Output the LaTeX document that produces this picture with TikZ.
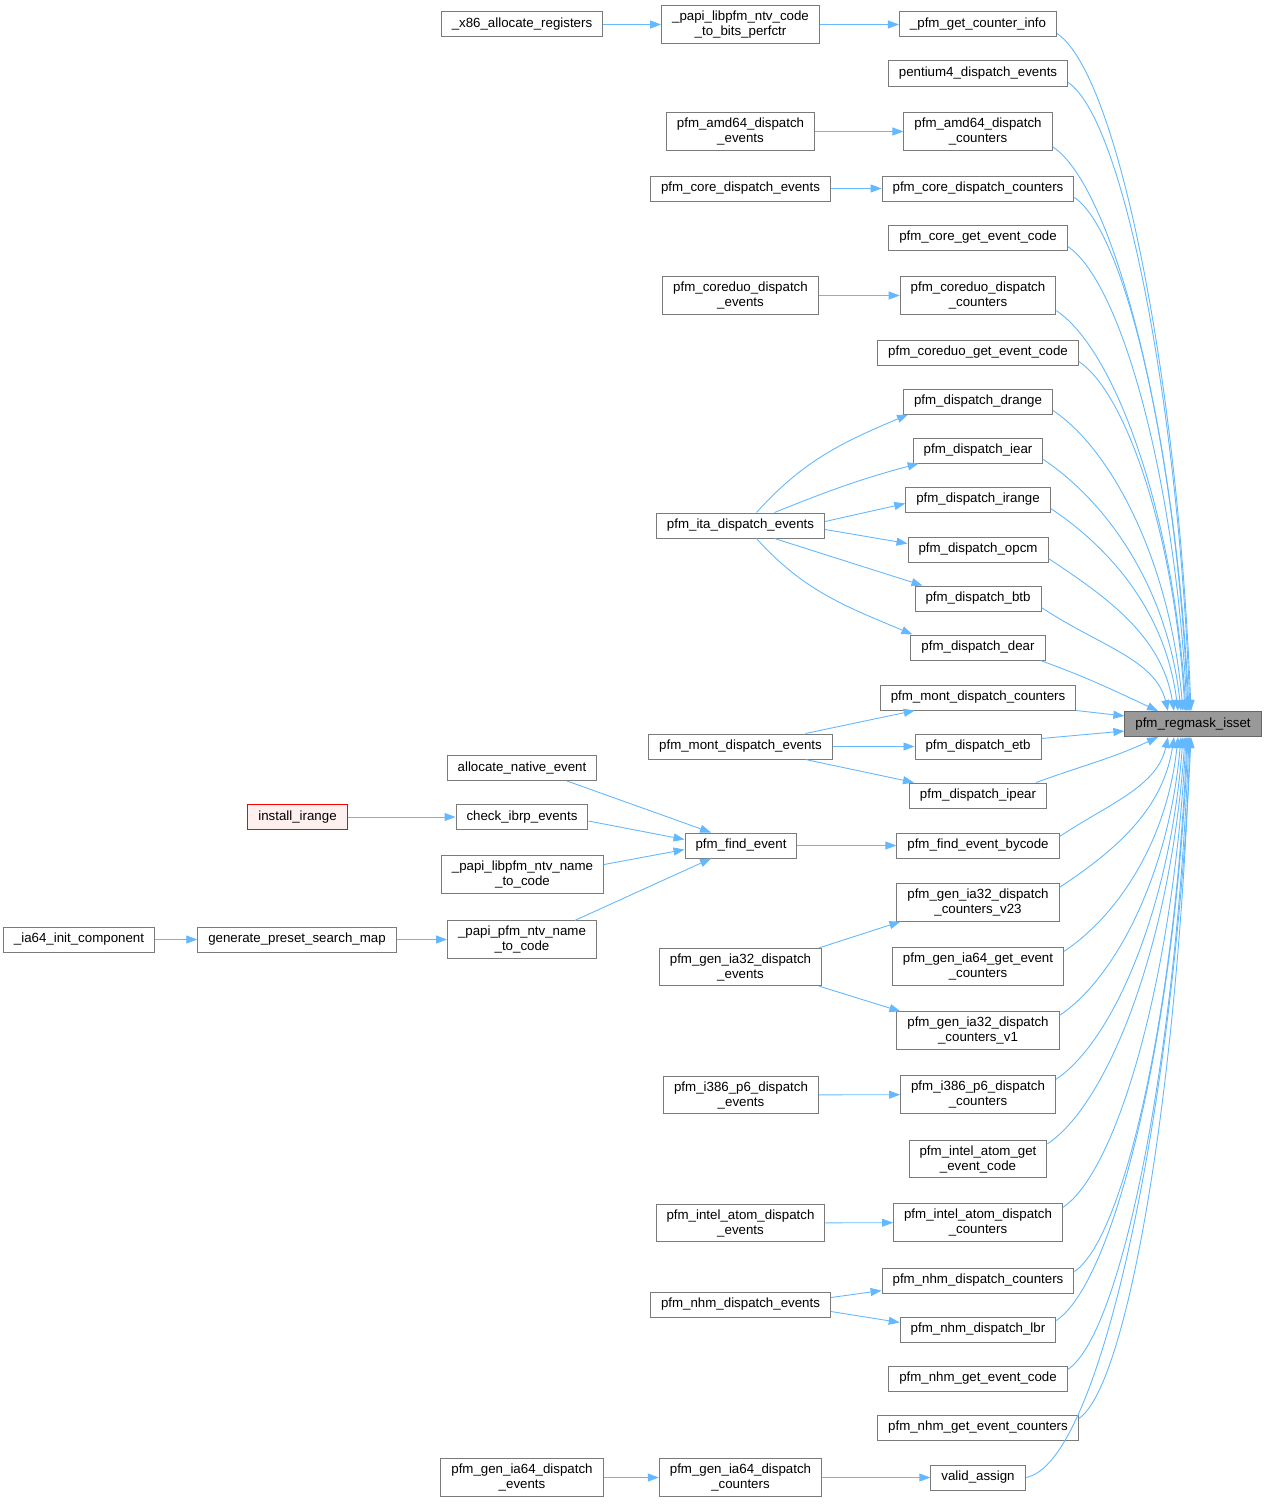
\documentclass[tikz,border=0pt]{standalone}
\usepackage{fontspec}
\setmainfont{Liberation Sans}
\usepackage{tikz}
\usetikzlibrary{%
  arrows.meta,%
  positioning,%
  calc%
}
\definecolor{edgeblue}{HTML}{63B8FF}
\definecolor{boxline}{HTML}{7A7A7A}
\definecolor{hitfill}{HTML}{999999}
\definecolor{hitline}{HTML}{666666}
\definecolor{rootfill}{HTML}{FFF0F0}

\begin{document}
\begin{tikzpicture}[
  x=1pt,y=1pt,
  font=\fontsize{13.3}{15}\selectfont,
  >={Triangle[length=11pt,width=8pt]},
  fnode/.style={draw=boxline,fill=white,line width=1pt,align=center,
    inner xsep=10.5pt,inner ysep=5pt,minimum height=25pt},
  fhit/.style={fnode,draw=hitline,fill=hitfill},
  froot/.style={fnode,draw=red,fill=rootfill},
  callarrow/.style={->,draw=edgeblue,line width=0.9pt},
]
\useasboundingbox (0,0) rectangle (1267,-1504);

% callers, far left
\node[fnode] (ia64init) at (79,-939.5) {\_ia64\_init\_component};
\node[fnode] (genmap) at (297,-939.5) {generate\_preset\_search\_map};
\node[froot] (instir) at (297.5,-817) {install\_irange};

% second column
\node[fnode] (x86reg) at (522,-24.5) {\_x86\_allocate\_registers};
\node[fnode] (allocev) at (522,-768) {allocate\_native\_event};
\node[fnode] (ibrpev) at (522,-817) {check\_ibrp\_events};
\node[fnode] (libname) at (522.5,-874.5) {\_papi\_libpfm\_ntv\_name\\\_to\_code};
\node[fnode] (pfmname) at (522,-939.5) {\_papi\_pfm\_ntv\_name\\\_to\_code};
\node[fnode] (ia64ev) at (522,-1477.5) {pfm\_gen\_ia64\_dispatch\\\_events};

% third column
\node[fnode] (codebits) at (740.5,-24.5) {\_papi\_libpfm\_ntv\_code\\\_to\_bits\_perfctr};
\node[fnode] (amdev) at (740.5,-131.5) {pfm\_amd64\_dispatch\\\_events};
\node[fnode] (coreev) at (740.5,-188.5) {pfm\_core\_dispatch\_events};
\node[fnode] (duoev) at (740.5,-295.5) {pfm\_coreduo\_dispatch\\\_events};
\node[fnode] (itaev) at (740.5,-525.5) {pfm\_ita\_dispatch\_events};
\node[fnode] (montev) at (740.5,-746.5) {pfm\_mont\_dispatch\_events};
\node[fnode] (findev) at (741,-845.5) {pfm\_find\_event};
\node[fnode] (ia32ev) at (740.5,-967) {pfm\_gen\_ia32\_dispatch\\\_events};
\node[fnode] (p6ev) at (741,-1095) {pfm\_i386\_p6\_dispatch\\\_events};
\node[fnode] (atomev) at (740.5,-1223) {pfm\_intel\_atom\_dispatch\\\_events};
\node[fnode] (nhmev) at (740.5,-1304.5) {pfm\_nhm\_dispatch\_events};
\node[fnode] (ia64cnt) at (740.5,-1477.5) {pfm\_gen\_ia64\_dispatch\\\_counters};

% direct callers of pfm_regmask_isset
\node[fnode] (cinfo) at (978,-24.5) {\_pfm\_get\_counter\_info};
\node[fnode] (ptfour) at (978,-73.5) {pentium4\_dispatch\_events};
\node[fnode] (amdcnt) at (978,-131.5) {pfm\_amd64\_dispatch\\\_counters};
\node[fnode] (corecnt) at (978,-188.5) {pfm\_core\_dispatch\_counters};
\node[fnode] (coreget) at (978,-237.5) {pfm\_core\_get\_event\_code};
\node[fnode] (duocnt) at (978,-295.5) {pfm\_coreduo\_dispatch\\\_counters};
\node[fnode] (duoget) at (978,-352.5) {pfm\_coreduo\_get\_event\_code};
\node[fnode] (drange) at (978,-401.5) {pfm\_dispatch\_drange};
\node[fnode] (iear) at (978,-450.5) {pfm\_dispatch\_iear};
\node[fnode] (irange) at (978,-499.5) {pfm\_dispatch\_irange};
\node[fnode] (opcm) at (978,-549.5) {pfm\_dispatch\_opcm};
\node[fnode] (btb) at (978,-598.5) {pfm\_dispatch\_btb};
\node[fnode] (dear) at (978,-647.5) {pfm\_dispatch\_dear};
\node[fnode] (montcnt) at (978,-697.5) {pfm\_mont\_dispatch\_counters};
\node[fnode] (etb) at (978,-746.5) {pfm\_dispatch\_etb};
\node[fnode] (ipear) at (978,-795.5) {pfm\_dispatch\_ipear};
\node[fnode] (bycode) at (978,-845.5) {pfm\_find\_event\_bycode};
\node[fnode] (vtt) at (978,-902.5) {pfm\_gen\_ia32\_dispatch\\\_counters\_v23};
\node[fnode] (iagetcnt) at (978,-966.5) {pfm\_gen\_ia64\_get\_event\\\_counters};
\node[fnode] (vone) at (978,-1030.5) {pfm\_gen\_ia32\_dispatch\\\_counters\_v1};
\node[fnode] (p6cnt) at (978,-1094.5) {pfm\_i386\_p6\_dispatch\\\_counters};
\node[fnode] (atomget) at (978,-1159) {pfm\_intel\_atom\_get\\\_event\_code};
\node[fnode] (atomcnt) at (978,-1222.5) {pfm\_intel\_atom\_dispatch\\\_counters};
\node[fnode] (nhmcnt) at (978,-1280.5) {pfm\_nhm\_dispatch\_counters};
\node[fnode] (lbr) at (978,-1329.5) {pfm\_nhm\_dispatch\_lbr};
\node[fnode] (nhmget) at (978,-1378.5) {pfm\_nhm\_get\_event\_code};
\node[fnode] (nhmgcnt) at (978,-1427.5) {pfm\_nhm\_get\_event\_counters};
\node[fnode] (valid) at (978,-1477.5) {valid\_assign};

\node[fhit] (isset) at (1193,-724) {pfm\_regmask\_isset};

% straight calls
\draw[callarrow] (x86reg) -- (codebits);
\draw[callarrow] (codebits) -- (cinfo);
\draw[callarrow] (amdev) -- (amdcnt);
\draw[callarrow] (coreev) -- (corecnt);
\draw[callarrow] (duoev) -- (duocnt);
\draw[callarrow] (p6ev) -- (p6cnt);
\draw[callarrow] (atomev) -- (atomcnt);
\draw[callarrow] (ia64ev) -- (ia64cnt);
\draw[callarrow] (ia64cnt) -- (valid);
\draw[callarrow] (findev) -- (bycode);
\draw[callarrow] (ia64init) -- (genmap);
\draw[callarrow] (genmap) -- (pfmname);
\draw[callarrow] (instir) -- (ibrpev);
\draw[callarrow] (montev) -- (etb);

% fans
\draw[callarrow] ([xshift=16pt]itaev.north) to[out=48,in=203] ([xshift=5pt]drange.south west);
\draw[callarrow] ([xshift=34pt]itaev.north) to[out=22,in=195] ([xshift=6pt]iear.south west);
\draw[callarrow] ([yshift=4pt]itaev.east) -- ([yshift=-4pt]irange.west);
\draw[callarrow] ([yshift=-4pt]itaev.east) -- ([yshift=6pt]opcm.west);
\draw[callarrow] ([xshift=34pt]itaev.south) -- ([xshift=8pt]btb.north west);
\draw[callarrow] ([xshift=16pt]itaev.south) to[out=-48,in=157] ([xshift=2pt]dear.north west);
\draw[callarrow] ([xshift=65pt]montev.north) -- ([xshift=35pt]montcnt.south west);
\draw[callarrow] ([xshift=65pt]montev.south) -- ([xshift=5pt]ipear.north west);
\draw[callarrow] ([xshift=45pt]allocev.south) -- ([xshift=-30pt]findev.north);
\draw[callarrow] ([yshift=-4pt]ibrpev.east) -- ([yshift=6pt]findev.west);
\draw[callarrow] ([yshift=10pt]libname.east) -- ([yshift=-4pt]findev.west);
\draw[callarrow] ([xshift=53pt]pfmname.north) -- ([xshift=-30pt]findev.south);
\draw[callarrow] ([xshift=-3pt]ia32ev.north east) -- ([xshift=4pt]vtt.south west);
\draw[callarrow] ([xshift=-3pt]ia32ev.south east) -- ([xshift=4pt]vone.north west);
\draw[callarrow] ([yshift=7pt]nhmev.east) -- ([yshift=-10pt]nhmcnt.west);
\draw[callarrow] ([yshift=-7pt]nhmev.east) -- ([yshift=7pt]lbr.west);

% into pfm_regmask_isset
\foreach \src/\sh in {cinfo/-2,ptfour/-3,amdcnt/-4,corecnt/-5,coreget/-6,duocnt/-7,
    duoget/-8,drange/-10,iear/-12,irange/-15,opcm/-19,btb/-25} {
  \draw[callarrow] let \p1=([yshift=4pt]\src.south east), \p2=([xshift=\sh pt]isset.north),
    \n1={\x2-\x1}, \n2={\y2-\y1} in
    (\p1) .. controls +({0.45*\n1},{-0.3*\n1}) and +({-0.1*\n1},{-0.5*(\n2)}) .. (\p2);
}
\foreach \src/\sh in {bycode/-25,vtt/-19,iagetcnt/-15,vone/-12,p6cnt/-10,
    atomget/-8,atomcnt/-7,nhmcnt/-6,lbr/-5,nhmget/-4,nhmgcnt/-3} {
  \draw[callarrow] let \p1=([yshift=-4pt]\src.north east), \p2=([xshift=\sh pt]isset.south),
    \n1={\x2-\x1}, \n2={\y2-\y1} in
    (\p1) .. controls +({0.45*\n1},{0.3*\n1}) and +({-0.1*\n1},{-0.5*(\n2)}) .. (\p2);
}
\draw[callarrow] ([xshift=-5pt]dear.south east) to[out=-20,in=155] ([xshift=-35pt]isset.north);
\draw[callarrow] (montcnt.south east) -- ([yshift=8pt]isset.west);
\draw[callarrow] ([yshift=-5pt]etb.north east) -- ([yshift=-7pt]isset.west);
\draw[callarrow] ([xshift=-11pt]ipear.north east) to[out=20,in=205] ([xshift=-35pt]isset.south);
\draw[callarrow] (valid.east) .. controls +(75,12) and +(-17,-370) .. ([xshift=-2pt]isset.south);
\end{tikzpicture}
\end{document}
